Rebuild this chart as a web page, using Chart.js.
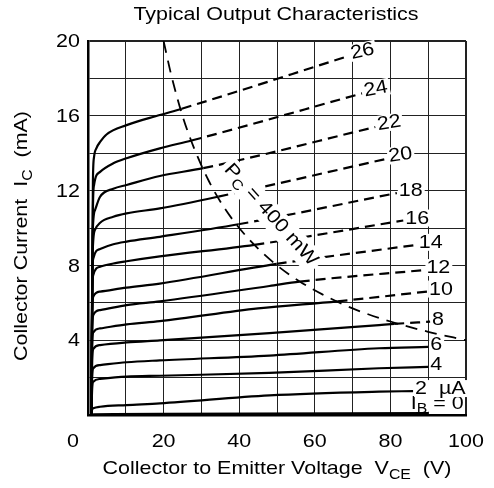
<!DOCTYPE html>
<html lang="en">
<head>
<meta charset="UTF-8">
<title>Typical Output Characteristics</title>
<script src="https://cdn.jsdelivr.net/npm/chart.js"></script>
<style>
  html, body { margin: 0; padding: 0; background: #fff; }
</style>
</head>
<body>
<canvas id="grafico" width="494" height="488"></canvas>
<script>
  // base current of each curve (µA) and the curve points [VCE (V), IC (mA)]
  const ibValues = [0, 2, 4, 6, 8, 10, 12, 14, 16, 18, 20, 22, 24, 26];
  const ib0  = [[0.9, 0], [1.5, 0.04], [20, 0.06], [90, 0.1]];
  const ib2  = [[0.9, 0], [1.1, 0.3], [1.4, 0.36], [3.2, 0.44], [10.2, 0.53], [19, 0.62], [48, 1.05], [77, 1.25], [86, 1.28]];
  const ib4  = [[0.9, 0], [1.1, 1.4], [1.4, 1.78], [3.2, 1.93], [10.2, 2.05], [19, 2.1], [48, 2.25], [77, 2.5], [90, 2.57]];
  const ib6  = [[0.9, 0], [1.1, 2.0], [1.4, 2.5], [3.2, 2.67], [10.2, 2.82], [19, 2.92], [48, 3.18], [77, 3.57], [90, 3.64]];
  const ib8  = [[0.9, 0], [1.1, 2.9], [1.4, 3.53], [3.2, 3.74], [10.2, 3.88], [19, 3.99], [48, 4.38], [77, 4.81], [81, 4.87], [90.5, 4.99]];
  const ib10 = [[0.9, 0], [1.1, 3.7], [1.4, 4.42], [3.2, 4.63], [10.2, 4.85], [19, 5.02], [45, 5.7], [66, 6.08], [89.7, 6.6]];
  const ib12 = [[0.9, 0], [1.1, 4.4], [1.4, 5.35], [3.2, 5.61], [10.2, 5.88], [19, 6.08], [48, 6.9], [56, 7.13], [89, 7.75]];
  const ib14 = [[0.9, 0], [1.1, 5.2], [1.4, 6.33], [3.2, 6.6], [10.2, 6.81], [19, 7.03], [49.9, 8.08], [87, 9.1]];
  const ib16 = [[0.9, 0], [1.1, 6.2], [1.4, 7.49], [3.2, 7.93], [6.7, 8.1], [10.2, 8.22], [19, 8.48], [44, 9.1], [83.4, 10.4]];
  const ib18 = [[0.9, 0], [1.1, 7.0], [1.4, 8.37], [3.2, 8.88], [6.7, 9.13], [10.2, 9.27], [19, 9.53], [39.8, 10.2], [81.7, 11.87]];
  const ib20 = [[0.9, 0], [1.2, 8.5], [1.85, 9.9], [3.2, 10.28], [6.7, 10.6], [10.2, 10.78], [19, 11.05], [34.5, 11.68], [79, 13.7]];
  const ib22 = [[0.9, 0], [1.2, 9.5], [1.85, 10.96], [3.2, 11.67], [6.7, 12.1], [10.2, 12.3], [19, 12.78], [30.5, 13.2], [76, 15.4]];
  const ib24 = [[0.9, 0], [1.3, 11.0], [1.6, 12.3], [3.2, 13.0], [6.7, 13.46], [10.2, 13.73], [19, 14.26], [27.4, 14.68], [72.5, 17.2]];
  const ib26 = [[0.9, 0], [1.3, 12.5], [1.6, 13.8], [2.3, 14.3], [3.2, 14.6], [4.9, 15.0], [10.2, 15.5], [19, 16.04], [24.8, 16.38], [69, 19.2]];
  const curves = [ib0, ib2, ib4, ib6, ib8, ib10, ib12, ib14, ib16, ib18, ib20, ib22, ib24, ib26];

  // PC = 400 mW limit
  const pcV = [20, 22, 25, 28, 32, 36, 40, 45, 50, 56, 62, 70, 80, 90, 100];
  const pcI = [20, 18.2, 16, 14.3, 12.5, 11.1, 10, 8.9, 8, 7.14, 6.45, 5.7, 5, 4.45, 4];
  const pcLabelAt = [48.4, 10.7];

  const xTicks = [0, 20, 40, 60, 80, 100];
  const yTicks = [4, 8, 12, 16, 20];

  const FONT = "'Liberation Sans', Arial, sans-serif";
  const SX = 1.13; // the lettering of the original is a bit wider than Arial

  // text with subscripts: parts = [[text, isSub], ...]
  function richWidth(ctx, parts, size) {
    let w = 0;
    parts.forEach(p => {
      ctx.font = (p[1] ? Math.round(size * 0.75) : size) + "px " + FONT;
      w += ctx.measureText(p[0]).width;
    });
    return w * SX;
  }
  function drawRich(ctx, parts, x, y, size) {
    // x = left edge, y = middle
    ctx.save();
    ctx.translate(x, y);
    ctx.scale(SX, 1);
    ctx.textBaseline = "middle";
    ctx.textAlign = "left";
    let cx = 0;
    parts.forEach(p => {
      ctx.font = (p[1] ? Math.round(size * 0.75) : size) + "px " + FONT;
      ctx.fillText(p[0], cx, p[1] ? size * 0.3 : 0);
      cx += ctx.measureText(p[0]).width;
    });
    ctx.restore();
  }
  function drawText(ctx, text, x, y, size, align) {
    ctx.save();
    ctx.translate(x, y);
    ctx.scale(SX, 1);
    ctx.font = size + "px " + FONT;
    ctx.textBaseline = "middle";
    ctx.textAlign = align;
    ctx.fillText(text, 0, 0);
    ctx.restore();
  }

  const annotations = {
    id: "annotations",
    afterDatasetsDraw(chart) {
      const ctx = chart.ctx;
      const xs = chart.scales.x, ys = chart.scales.y;
      const area = chart.chartArea;
      ctx.save();
      ctx.fillStyle = "#000";

      // IB = 0
      const ib0Parts = [["I", false], ["B", true], [" = 0", false]];
      const w0 = richWidth(ctx, ib0Parts, 19);
      const x0 = xs.getPixelForValue(99.4) - w0, y0 = ys.getPixelForValue(0.6);
      ctx.fillStyle = "#fff";
      ctx.fillRect(x0 - 2, y0 - 8, w0 + 3, 16);
      ctx.fillStyle = "#000";
      drawRich(ctx, ib0Parts, x0, y0, 19);

      // curve labels
      curves.forEach((pts, i) => {
        if (ibValues[i] === 0) return;
        const last = pts[pts.length - 1], prev = pts[pts.length - 2];
        const px = xs.getPixelForValue(last[0]), py = ys.getPixelForValue(last[1]);
        const qx = xs.getPixelForValue(prev[0]), qy = ys.getPixelForValue(prev[1]);
        let ang = Math.atan2(py - qy, px - qx);
        ang = Math.abs(ang) < 0.21 ? 0 : ang * 0.7;
        const text = ibValues[i] === 2 ? "2  µA" : String(ibValues[i]);
        ctx.font = "19px " + FONT;
        const w = ctx.measureText(text).width * SX;
        ctx.save();
        ctx.translate(px + 2, py - 2);
        ctx.rotate(ang);
        ctx.fillStyle = "#fff";
        ctx.fillRect(-1, -9, w + 3, 17);
        ctx.fillStyle = "#000";
        drawText(ctx, text, 0, 0, 19, "left");
        ctx.restore();
      });

      // PC = 400 mW
      const pcParts = [["P", false], ["C", true], [" = 400 mW", false]];
      const wp = richWidth(ctx, pcParts, 19);
      ctx.save();
      ctx.translate(xs.getPixelForValue(pcLabelAt[0]), ys.getPixelForValue(pcLabelAt[1]));
      ctx.rotate(48 * Math.PI / 180);
      ctx.fillStyle = "#fff";
      ctx.fillRect(-wp / 2 - 4, -12, wp + 8, 25);
      ctx.fillStyle = "#000";
      drawRich(ctx, pcParts, -wp / 2, 0, 19);
      ctx.restore();

      // tick labels
      xTicks.forEach(v => {
        const off = v === 0 ? -15 : 0;
        drawText(ctx, String(v), xs.getPixelForValue(v) + off, area.bottom + 27, 19, "center");
      });
      yTicks.forEach(v => {
        drawText(ctx, String(v), area.left - 8, ys.getPixelForValue(v) + 1, 19, "right");
      });

      // chart title
      drawText(ctx, "Typical Output Characteristics", (area.left + area.right) / 2 - 1, 15, 19, "center");

      // x axis title
      const xt = [["Collector to Emitter Voltage  V", false], ["CE", true], ["  (V)", false]];
      const wx = richWidth(ctx, xt, 19);
      drawRich(ctx, xt, (area.left + area.right) / 2 - wx / 2, 469, 19);

      // y axis title
      const yt = [["Collector Current  I", false], ["C", true], ["  (mA)", false]];
      const wy = richWidth(ctx, yt, 19);
      ctx.save();
      ctx.translate(22, (area.top + area.bottom) / 2 + 8);
      ctx.rotate(-Math.PI / 2);
      drawRich(ctx, yt, -wy / 2, 0, 19);
      ctx.restore();

      ctx.restore();
    }
  };

  const dashIfOver = ctx => {
    const x = (ctx.p0.parsed.x + ctx.p1.parsed.x) / 2;
    const y = (ctx.p0.parsed.y + ctx.p1.parsed.y) / 2;
    return x * y > 400 ? [10, 6] : undefined;
  };

  const datasets = curves.map((pts, i) => ({
    label: ibValues[i] + " µA",
    data: pts.map(p => ({ x: p[0], y: p[1] })),
    showLine: true,
    borderColor: "#000",
    borderWidth: 2.2,
    pointRadius: 0,
    cubicInterpolationMode: "monotone",
    segment: { borderDash: dashIfOver }
  }));
  datasets.push({
    label: "PC = 400 mW",
    data: pcV.map((v, i) => ({ x: v, y: pcI[i] })),
    showLine: true,
    borderColor: "#000",
    borderWidth: 1.8,
    borderDash: [12, 8],
    pointRadius: 0,
    cubicInterpolationMode: "monotone"
  });

  new Chart(document.getElementById("grafico"), {
    type: "scatter",
    data: { datasets },
    options: {
      responsive: false,
      devicePixelRatio: 1,
      animation: false,
      layout: { padding: { top: 41, right: 28, left: 0, bottom: 0 } },
      plugins: { legend: { display: false }, tooltip: { enabled: false }, title: { display: false } },
      scales: {
        x: {
          type: "linear",
          min: 0,
          max: 100,
          afterFit: s => { s.height = 73; },
          ticks: { display: false, stepSize: 10, autoSkip: false },
          grid: {
            drawTicks: false,
            color: "#222",
            lineWidth: c => (c.tick && c.tick.value === 100 ? 2 : 1)
          },
          border: { color: "#000", width: 2.5 }
        },
        y: {
          type: "linear",
          min: 0,
          max: 20,
          afterFit: s => { s.width = 88; },
          ticks: { display: false, stepSize: 2, autoSkip: false },
          grid: {
            drawTicks: false,
            color: "#222",
            lineWidth: c => (c.tick && c.tick.value === 20 ? 2 : 1)
          },
          border: { color: "#000", width: 2.5 }
        }
      }
    },
    plugins: [annotations]
  });
</script>
</body>
</html>
